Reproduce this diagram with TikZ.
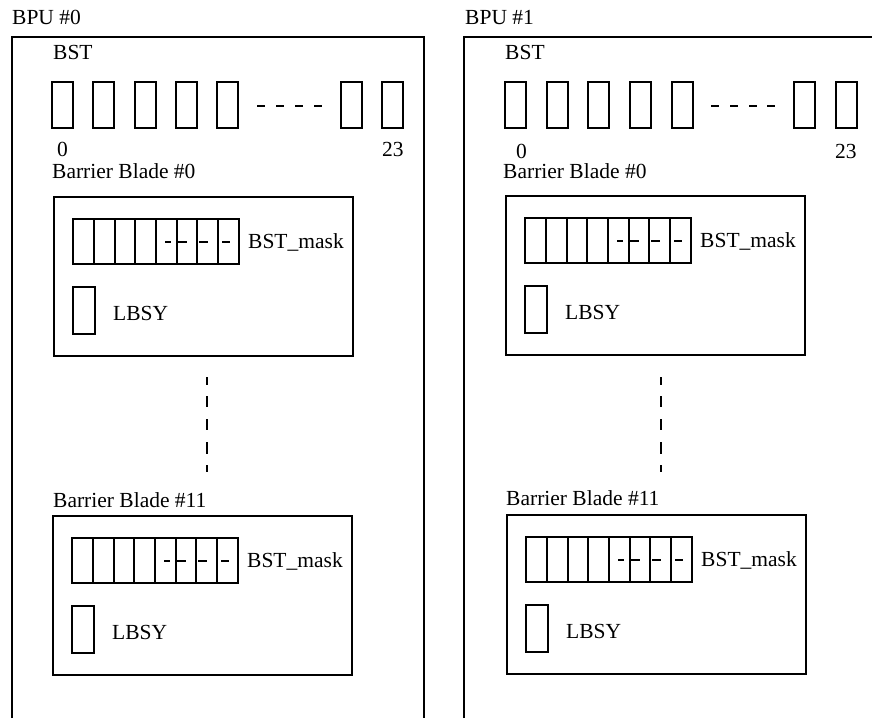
\documentclass[tikz,border=0pt]{standalone}
\usepackage{fontspec}
\setmainfont{Liberation Serif}
\begin{document}
\begin{tikzpicture}[x=1pt,y=-1pt,line join=miter,
  lbl/.style={anchor=base west,inner sep=0pt,font=\fontsize{21.5}{24}\selectfont},
  outer/.style={line width=2.2pt},
  cell/.style={line width=2pt},
  dsh/.style={line width=2.8pt}]
\useasboundingbox (0,0) rectangle (872,718);
\newcommand{\myblade}[3]{%
\begin{scope}[shift={(#1,#2)}]
\draw[outer] (0,0) rectangle (299,159);
\draw[cell] (19,22) rectangle (185,67);
\foreach \x in {40,61,81,102,123,143,164} \draw[cell] (\x,22) -- (\x,67);
\foreach \a/\b in {111/117,124/133,145/154,168/176} \draw[dsh] (\a,45) -- (\b,45);
\draw[cell] (19,90) rectangle (41,137);
\node[lbl] (#3m) at (194,51) {BST\_mask};
\node[lbl] (#3l) at (59,123) {LBSY};
\end{scope}}
% BPU #0
\node[lbl] (bpu0) at (12,24) {BPU \#0};
\draw[outer] (12,718) -- (12,37) -- (424,37) -- (424,718);
\node[lbl] (bst0) at (53,59) {BST};
\foreach \x in {52,93,135,176,217,341,382} \draw[cell] (\x,82) rectangle ++(21,46);
\foreach \a in {257,276,295,314} \draw[dsh] (\a,106) -- ++(8,0);
\node[lbl] (z0) at (57,156) {0};
\node[lbl] (t0) at (382,156) {23};
\node[lbl] (bb00) at (52,178) {Barrier Blade \#0};
\myblade{54}{197}{a0}
\foreach \a/\b in {377/385,396/407,419/430,442/454,465/472} \draw[dsh] (207,\a) -- (207,\b);
\node[lbl] (bb011) at (53,507) {Barrier Blade \#11};
\myblade{53}{516}{a11}
% BPU #1
\node[lbl] (bpu1) at (465,24) {BPU \#1};
\draw[outer] (464,718) -- (464,37) -- (873,37);
\node[lbl] (bst1) at (505,59) {BST};
\foreach \x in {505,547,588,630,672,794,836} \draw[cell] (\x,82) rectangle ++(21,46);
\foreach \a in {711,730,749,767} \draw[dsh] (\a,106) -- ++(8,0);
\node[lbl] (z1) at (516,158) {0};
\node[lbl] (t1) at (835,158) {23};
\node[lbl] (bb10) at (503,178) {Barrier Blade \#0};
\myblade{506}{196}{b0}
\foreach \a/\b in {377/385,396/407,419/430,442/454,465/472} \draw[dsh] (661,\a) -- (661,\b);
\node[lbl] (bb111) at (506,505) {Barrier Blade \#11};
\myblade{507}{515}{b11}
\end{tikzpicture}
\end{document}
